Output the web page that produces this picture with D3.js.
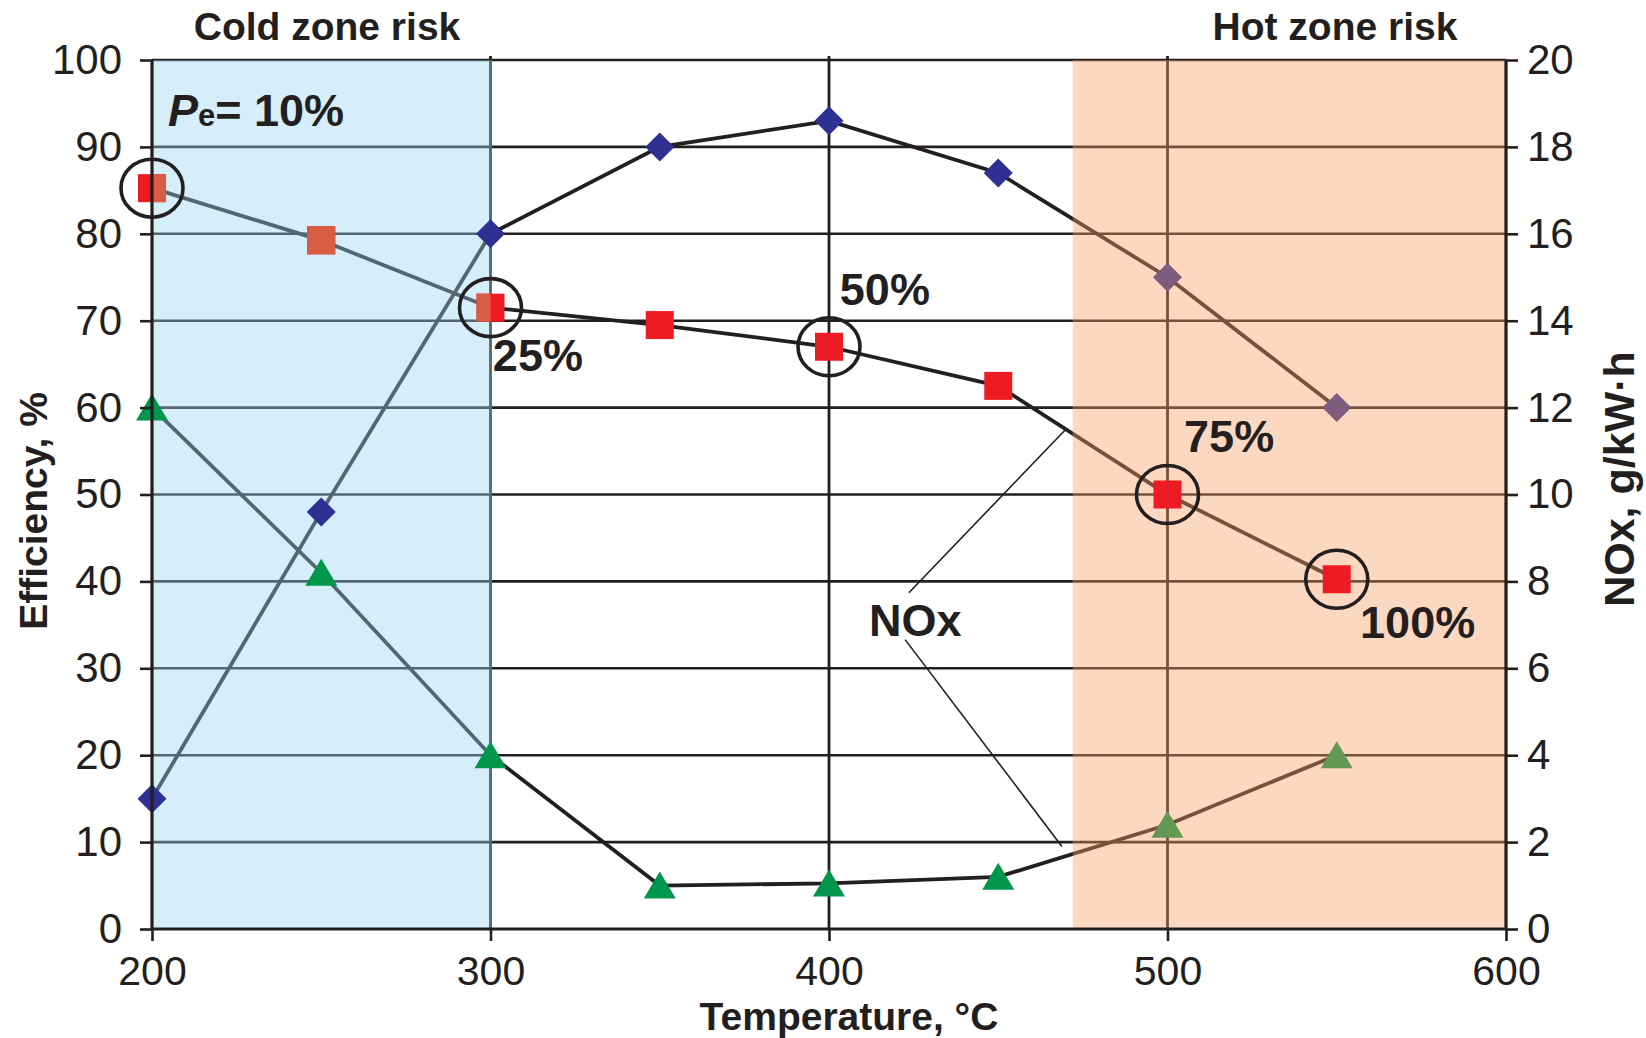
<!DOCTYPE html>
<html>
<head>
<meta charset="utf-8" />
<title>Efficiency and NOx vs temperature</title>
<style>
  body { margin: 0; background: #fff; }
  svg { display: block; font-family: "Liberation Sans", Arial, sans-serif; }
</style>
</head>
<body>
<svg id="chart"></svg>
<script src="https://cdn.jsdelivr.net/npm/d3@7"></script>
<script>
const temps = [200, 250, 300, 350, 400, 450, 500, 550]
const efficiency = [15, 48, 80, 90, 93, 87, 75, 60]
const noxLoad = [17.05, 15.85, 14.3, 13.9, 13.4, 12.5, 10.0, 8.05]
const noxOut = [12, 8.2, 4, 1, 1.05, 1.2, 2.4, 4]
const xTicks = [200, 300, 400, 500, 600]
const effTicks = d3.range(0, 101, 10)
const noxTicks = d3.range(0, 21, 2)
const loadTemps = [200, 300, 400, 500, 550]
const loadLabels = ['10%', '25%', '50%', '75%', '100%']
const coldZone = [200, 300]
const hotZone = [472, 600]

const W = 1646, H = 1038
const ink = '#231f20'

const svg = d3.select('#chart').attr('width', W).attr('height', H)

const x = d3.scaleLinear().domain([200, 600]).range([152, 1506])
const yL = d3.scaleLinear().domain([0, 100]).range([929, 60])
const yR = d3.scaleLinear().domain([0, 20]).range([929, 60])

svg.append('defs').append('clipPath').attr('id', 'cold-clip')
  .append('rect')
  .attr('x', x(coldZone[0])).attr('y', yL(100))
  .attr('width', x(coldZone[1]) - x(coldZone[0])).attr('height', yL(0) - yL(100))

// grid
const grid = svg.append('g')
grid.selectAll('line.h').data(effTicks.filter(d => d > 0)).join('line')
  .attr('x1', x(200)).attr('x2', x(600))
  .attr('y1', d => yL(d)).attr('y2', d => yL(d))
  .attr('stroke', ink).attr('stroke-width', 2.6)
grid.selectAll('line.v').data([300, 400, 500]).join('line')
  .attr('x1', d => x(d)).attr('x2', d => x(d))
  .attr('y1', yL(0)).attr('y2', yL(100) - 4)
  .attr('stroke', ink).attr('stroke-width', 2.8)

// series lines
const pts = (vals, y) => temps.map((t, i) => [x(t), y(vals[i])])
const line = d3.line()
const lines = svg.append('g').attr('fill', 'none').attr('stroke', ink).attr('stroke-width', 3.8)
lines.append('path').attr('d', line(pts(efficiency, yL)))
lines.append('path').attr('d', line(pts(noxLoad, yR)))
lines.append('path').attr('d', line(pts(noxOut, yR)))

function zone(range, color, op) {
  svg.append('rect')
    .attr('x', x(range[0])).attr('y', yL(100))
    .attr('width', x(range[1]) - x(range[0]) + 1.5).attr('height', yL(0) - yL(100))
    .attr('fill', color).attr('opacity', op)
}

function diamonds(filter) {
  svg.append('g').selectAll('path').data(temps.map((t, i) => [t, efficiency[i]]).filter(filter)).join('path')
    .attr('transform', d => `translate(${x(d[0])},${yL(d[1])})`)
    .attr('d', 'M0,-14.5L14.5,0L0,14.5L-14.5,0Z').attr('fill', '#2e3192')
}
function triangles(filter) {
  svg.append('g').selectAll('path').data(temps.map((t, i) => [t, noxOut[i]]).filter(filter)).join('path')
    .attr('transform', d => `translate(${x(d[0])},${yR(d[1])})`)
    .attr('d', 'M0,-14L16,13L-16,13Z').attr('fill', '#00964b')
}
function squares(filter, color) {
  return svg.append('g').selectAll('rect').data(temps.map((t, i) => [t, noxLoad[i]]).filter(filter)).join('rect')
    .attr('x', d => x(d[0]) - 14).attr('y', d => yR(d[1]) - 14)
    .attr('width', 28).attr('height', 28).attr('fill', color)
}

const hot = d => d[0] >= hotZone[0]
const cold = d => d[0] <= coldZone[1]

zone(coldZone, 'rgb(152,212,240)', 0.4)
diamonds(hot)
triangles(hot)
zone(hotZone, 'rgb(247,158,100)', 0.4)
diamonds(d => !hot(d))
triangles(d => !hot(d))
squares(() => true, '#ed1c24')
squares(cold, '#d95c45').attr('clip-path', 'url(#cold-clip)')

// load circles
svg.append('g').selectAll('ellipse').data(loadTemps).join('ellipse')
  .attr('cx', t => x(t)).attr('cy', t => yR(noxLoad[temps.indexOf(t)]))
  .attr('rx', 31).attr('ry', 29)
  .attr('fill', 'none').attr('stroke', ink).attr('stroke-width', 3.6)

// axes
const axL = svg.append('g').attr('transform', `translate(${x(200)},0)`)
  .call(d3.axisLeft(yL).tickValues(effTicks).tickSize(12).tickPadding(18))
const axR = svg.append('g').attr('transform', `translate(${x(600)},0)`)
  .call(d3.axisRight(yR).tickValues(noxTicks).tickSize(12).tickPadding(9))
const axB = svg.append('g').attr('transform', `translate(0,${yL(0)})`)
  .call(d3.axisBottom(x).tickValues(xTicks).tickSize(12).tickPadding(15))
;[axL, axR, axB].forEach(a => {
  a.selectAll('path.domain').attr('stroke', ink).attr('stroke-width', 3.2)
  a.selectAll('.tick line').attr('stroke', ink).attr('stroke-width', 2.6)
  a.selectAll('.tick text').attr('fill', ink).style('font-size', '42px')
    .style('font-family', '"Liberation Sans", Arial, sans-serif')
})
axB.selectAll('.tick text').style('font-size', '41px')
axL.select('path.domain').attr('d', `M0,${yL(100)}V${yL(0)}`)
axR.select('path.domain').attr('d', `M0,${yL(100)}V${yL(0)}`)
axB.select('path.domain').attr('d', `M${x(200)},0H${x(600)}`)

// titles
const bold = (sel, size) => sel.attr('font-weight', 'bold').attr('fill', ink).style('font-size', size + 'px')
bold(svg.append('text'), 39).attr('x', 327).attr('y', 40).attr('text-anchor', 'middle').text('Cold zone risk')
bold(svg.append('text'), 39).attr('x', 1335).attr('y', 40).attr('text-anchor', 'middle').text('Hot zone risk')
bold(svg.append('text'), 39).attr('x', 849).attr('y', 1029.5).attr('text-anchor', 'middle').text('Temperature, °C')
bold(svg.append('text'), 39).attr('transform', 'translate(47,511) rotate(-90)').attr('text-anchor', 'middle').text('Efficiency, %')
bold(svg.append('text'), 43).attr('transform', 'translate(1634,479) rotate(-90)').attr('text-anchor', 'middle').text('NOx, g/kW·h')

// load labels (data coords)
const labelPos = [[204.7, 92.4], [300.7, 64.2], [403.2, 71.8], [504.9, 54.9], [556.9, 33.5]]
loadLabels.forEach((lab, i) => {
  const t = bold(svg.append('text'), 45).attr('x', x(labelPos[i][0])).attr('y', yL(labelPos[i][1]))
  if (i === 0) {
    t.append('tspan').attr('font-style', 'italic').text('P')
    t.append('tspan').style('font-size', '31px').text('e')
    t.append('tspan').text('= ' + lab)
  } else {
    t.text(lab)
  }
})

// NOx callout
bold(svg.append('text'), 45).attr('x', x(411.8)).attr('y', yL(33.7)).text('NOx')
const leaders = [[[423.6, 38.7], [469.7, 57.4]], [[422.5, 33.3], [468.8, 9.5]]]
svg.append('g').selectAll('line').data(leaders).join('line')
  .attr('x1', d => x(d[0][0])).attr('y1', d => yL(d[0][1]))
  .attr('x2', d => x(d[1][0])).attr('y2', d => yL(d[1][1]))
  .attr('stroke', ink).attr('stroke-width', 1.6)
</script>
</body>
</html>
